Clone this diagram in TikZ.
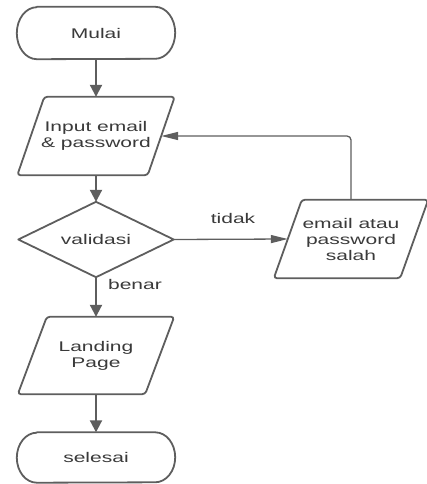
\documentclass[tikz,border=0pt]{standalone}
\usepackage{fontspec}
\setmainfont{Liberation Sans}[FakeStretch=1.5]
\usetikzlibrary{arrows.meta}
\definecolor{edge}{HTML}{5E5E5E}
\definecolor{ink}{HTML}{3A3A3A}
\begin{document}
\begin{tikzpicture}[x=1pt,y=1pt,
  base/.style={inner sep=0pt, align=center, text=ink,
               font=\fontsize{14}{16}\selectfont},
  outline/.style={draw=edge, line width=1.8pt, fill=white, line join=round},
  slant/.style={outline, rounded corners=3pt},
  vflow/.style={draw=edge, line width=2pt, -{Triangle[length=12pt,width=12pt]}},
  hflow/.style={draw=edge, line width=1.3pt, -{Triangle[length=17pt,width=8pt]}},
  lbl/.style={base}]
\useasboundingbox (0,0) rectangle (426,-484);

% node frames (text only; outlines are drawn below)
\node[base, minimum width=158pt, minimum height=52pt] (start) at (96,-33) {};
\node[base, minimum width=157pt, minimum height=78pt] (input) at (96,-136) {};
\node[base, minimum width=155pt, minimum height=75pt] (check) at (96,-239.5) {};
\node[base, minimum width=154pt, minimum height=78pt] (wrong) at (351,-239) {};
\node[base, minimum width=156pt, minimum height=77pt] (land) at (96,-355.5) {};
\node[base, minimum width=158pt, minimum height=50pt] (stop) at (96,-457.5) {};

% terminal: start
\draw[outline] ([xshift=20pt]start.north west) -- ([xshift=-20pt]start.north east)
  arc[start angle=90,end angle=-90,x radius=20pt,y radius=26pt]
  -- ([xshift=20pt]start.south west)
  arc[start angle=270,end angle=90,x radius=20pt,y radius=26pt] -- cycle;
% input data
\draw[slant] ([xshift=27pt]input.north west) -- (input.north east)
  -- ([xshift=-27pt]input.south east) -- (input.south west) -- cycle;
% decision
\draw[outline] (check.north) -- (check.east) -- (check.south) -- (check.west) -- cycle;
% error message
\draw[slant] ([xshift=28pt]wrong.north west) -- (wrong.north east)
  -- ([xshift=-28pt]wrong.south east) -- (wrong.south west) -- cycle;
% landing page
\draw[slant] ([xshift=29pt]land.north west) -- (land.north east)
  -- ([xshift=-29pt]land.south east) -- (land.south west) -- cycle;
% terminal: end
\draw[outline] ([xshift=20pt]stop.north west) -- ([xshift=-20pt]stop.north east)
  arc[start angle=90,end angle=-90,x radius=20pt,y radius=25pt]
  -- ([xshift=20pt]stop.south west)
  arc[start angle=270,end angle=90,x radius=20pt,y radius=25pt] -- cycle;

% texts
\node[base] (tstart) at (start) {Mulai};
\node[base] (tinput) at (input) {Input email\\\& password};
\node[base] (tcheck) at (check) {validasi};
\node[base] (twrong) at (wrong) {email atau\\password\\salah};
\node[base] (tland) at (land) {Landing\\Page};
\node[base] (tstop) at (stop) {selesai};

% connectors
\draw[vflow] (start.south) -- (input.north);
\draw[vflow] (input.south) -- (check.north);
\draw[vflow] (check.south) -- (land.north);
\draw[vflow] (land.south) -- (stop.north);
\coordinate (wrongin) at ([xshift=14pt]wrong.west);
\draw[hflow] (check.east) -- (wrongin);
\coordinate (inputin) at ([xshift=-13.5pt]input.east);
\draw[hflow, rounded corners=4pt] (wrong.north) |- (inputin);

% branch labels
\node[lbl] (no) at (233,-218) {tidak};
\node[lbl] (yes) at (135,-284) {benar};
\end{tikzpicture}
\end{document}
